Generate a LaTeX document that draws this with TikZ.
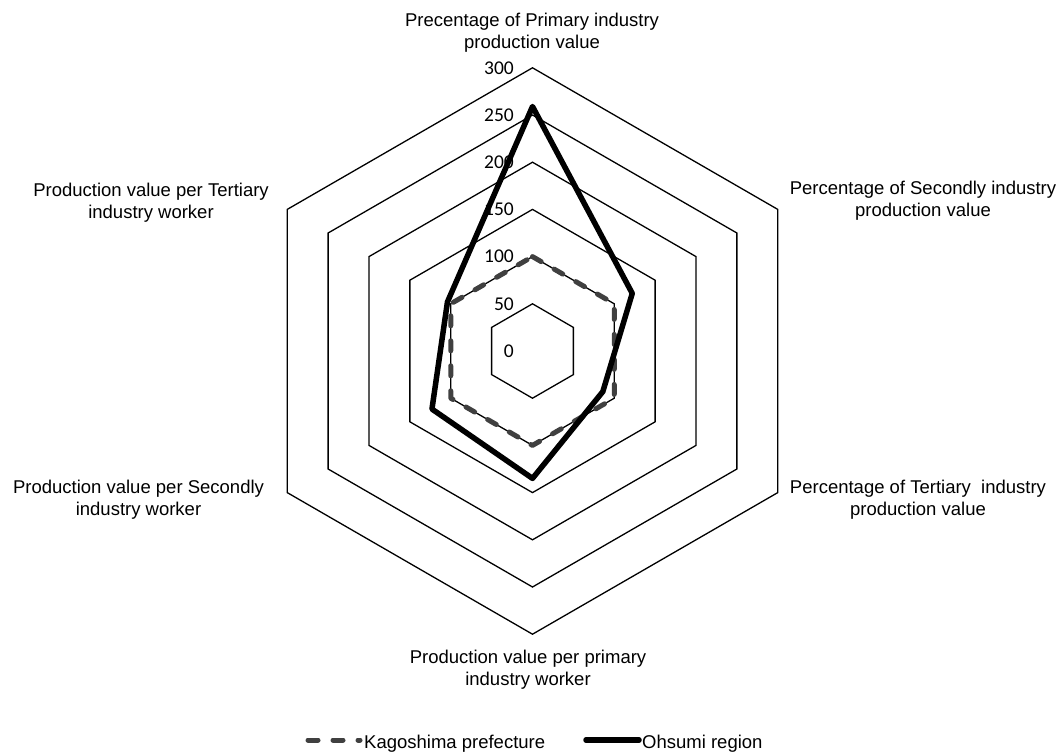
\documentclass[tikz,border=0pt]{standalone}
\usepackage{fontspec}
\setmainfont{Liberation Sans}
\newfontfamily\tickfont{Carlito}
\usetikzlibrary{calc}
\definecolor{kagogray}{HTML}{404040}

\tikzset{
  gridline/.style={draw=black, line width=1.3pt, line join=miter},
  ticklabel/.style={anchor=east, inner sep=0pt, font=\tickfont\fontsize{19.5}{21}\selectfont},
  catlabel/.style={align=center, inner sep=0pt, font=\fontsize{18.5}{22}\selectfont},
  kagoline/.style={draw=kagogray, line width=5pt, line cap=round, line join=round,
                   dash pattern=on 10pt off 15pt},
  ohsumiline/.style={draw=black, line width=5.5pt, line cap=round, line join=round},
  legendtext/.style={anchor=base west, inner sep=0pt, font=\fontsize{18.5}{22}\selectfont},
}

\begin{document}
\begin{tikzpicture}[x=1pt, y=-1pt]
\useasboundingbox (0,0) rectangle (1061,753);

% radar grid: six hexagonal rings, 50 units apart
\begin{scope}[shift={(532.5,351)}]
  \coordinate (C) at (0,0);
  \foreach \k in {1,...,6} {
    \draw[gridline] (-90:{\k*47.2}) -- (-30:{\k*47.2}) -- (30:{\k*47.2})
      -- (90:{\k*47.2}) -- (150:{\k*47.2}) -- (210:{\k*47.2}) -- cycle;
  }
\end{scope}

% scale labels
\foreach \v [count=\i from 0] in {0,50,100,150,200,250,300} {
  \node[ticklabel] (t\i) at (514,{351-\i*47.2}) {\v};
}

% axis titles
\node[catlabel] (ax1) at (532,33) {Precentage of Primary industry\\production value};
\node[catlabel] (ax2) at (923,201) {Percentage of Secondly industry\\production value};
\node[catlabel] (ax3) at (918,500) {Percentage of Tertiary\ \ industry\\production value};
\node[catlabel] (ax4) at (528,670) {Production value per primary\\industry worker};
\node[catlabel] (ax5) at (138.5,500) {Production value per Secondly\\industry worker};
\node[catlabel] (ax6) at (151,203) {Production value per Tertiary\\industry worker};

% data points
\begin{scope}[shift={(532.5,351)}]
  % Kagoshima prefecture = 100 on every axis
  \coordinate (k1) at (-90:94.4);
  \coordinate (k2) at (-30:94.4);
  \coordinate (k3) at (30:94.4);
  \coordinate (k4) at (90:94.4);
  \coordinate (k5) at (150:94.4);
  \coordinate (k6) at (210:94.4);
  % Ohsumi region
  \coordinate (o1) at (-90:244.5);
  \coordinate (o2) at (-30:115.2);
  \coordinate (o3) at (30:81.2);
  \coordinate (o4) at (90:127.4);
  \coordinate (o5) at (150:116.1);
  \coordinate (o6) at (210:98.2);
\end{scope}

\draw[kagoline] (k1) -- (k2) -- (k3) -- (k4) -- (k5) -- (k6) -- cycle;
\draw[ohsumiline] (o1) -- (o2) -- (o3) -- (o4) -- (o5) -- (o6) -- cycle;

% legend
\coordinate (lk1) at (308,740);
\coordinate (lk2) at (360,740);
\coordinate (lo1) at (586,740);
\coordinate (lo2) at (639,740);
\draw[kagoline] (lk1) -- (lk2);
\draw[ohsumiline] (lo1) -- (lo2);
\node[legendtext] (lgk) at (364,748) {Kagoshima prefecture};
\node[legendtext] (lgo) at (642,748) {Ohsumi region};
\end{tikzpicture}
\end{document}
